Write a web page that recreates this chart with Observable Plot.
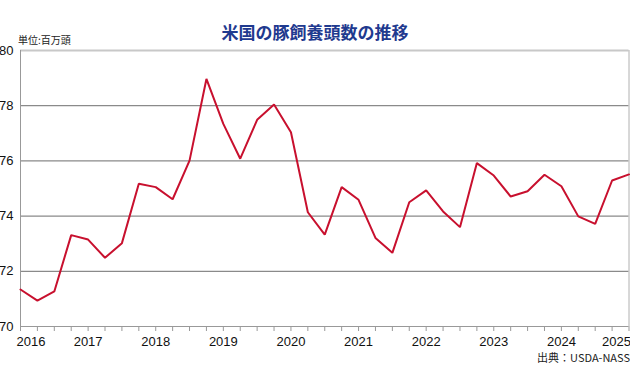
<!DOCTYPE html>
<html>
<head>
<meta charset="utf-8">
<script src="https://cdn.jsdelivr.net/npm/d3@7"></script>
<script src="https://cdn.jsdelivr.net/npm/@observablehq/plot@0.6"></script>
<style>
  html, body { margin: 0; padding: 0; background: #fff; }
  #wrap { position: relative; width: 630px; height: 388px; overflow: hidden; font-family: "Liberation Sans", Arial, sans-serif; }
  #title { position: absolute; left: 0; width: 630px; top: 21px; text-align: center; font-family: "Noto Sans CJK JP", sans-serif; font-weight: 700; font-size: 17px; color: #1f3a8f; line-height: 22px; }
  #unit { position: absolute; left: 18px; top: 34px; font-family: "Noto Sans CJK JP", sans-serif; font-size: 10px; color: #222; line-height: 12px; }
  #source { position: absolute; right: 0px; top: 350px; font-family: "Noto Sans CJK JP", sans-serif; font-size: 11px; color: #222; line-height: 14px; }
  #chart { position: absolute; left: 0; top: 0; }
</style>
</head>
<body>
<div id="wrap">
  <div id="chart"></div>
  <div id="title">米国の豚飼養頭数の推移</div>
  <div id="unit">単位:百万頭</div>
  <div id="source">出典：USDA-NASS</div>
</div>
<script>
// Quarterly US hog inventory (million head), 2016 Q1 .. 2025 Q1
const years = [2016, 2017, 2018, 2019, 2020, 2021, 2022, 2023, 2024, 2025];
const quarters = ["Q1", "Q2", "Q3", "Q4"];
const inventory = [
  71.34, 70.94, 71.27, 73.31,
  73.15, 72.49, 73.02, 75.17,
  75.05, 74.61, 76.01, 78.97,
  77.34, 76.08, 77.49, 78.04,
  77.04, 74.14, 73.33, 75.05,
  74.59, 73.21, 72.67, 74.50,
  74.93, 74.17, 73.60, 75.92,
  75.47, 74.71, 74.90, 75.50,
  75.08, 73.99, 73.72, 75.29,
  75.51
];
const yTicks = [70, 72, 74, 76, 78, 80];
const gridValues = [72, 74, 76, 78];

const periods = inventory.map((v, i) => ({
  idx: i,
  label: `${years[Math.floor(i / 4)]}${quarters[i % 4]}`,
  value: v
}));
const yearLabels = years.map((y, i) => ({ idx: i * 4, year: String(y) }));

const chart = Plot.plot({
  width: 630,
  height: 388,
  marginLeft: 20,
  marginRight: 1.5,
  marginTop: 50,
  marginBottom: 62,
  style: { fontFamily: "Liberation Sans, Arial, sans-serif", background: "transparent", overflow: "visible" },
  x: { type: "linear", domain: [0, 36], axis: null, label: null },
  y: { domain: [70, 80], axis: null, label: null },
  marks: [
    Plot.ruleY(gridValues, { stroke: "#8a8a8a", strokeWidth: 1.3 }),
    Plot.ruleY([80], { stroke: "#c8c8c8", strokeWidth: 2 }),
    Plot.ruleX([36], { stroke: "#b0b0b0", strokeWidth: 1 }),
    Plot.axisX({ ticks: periods.map(d => d.idx), tickSize: 5, tickFormat: () => "", stroke: "#999", label: null }),
    Plot.ruleY([70], { stroke: "#999", strokeWidth: 1 }),
    Plot.ruleX([0], { stroke: "#999", strokeWidth: 1 }),
    Plot.line(periods, { x: "idx", y: "value", stroke: "#c8102e", strokeWidth: 2, strokeLinejoin: "miter" }),
    Plot.text(yTicks, { x: 0, y: d => d, text: d => String(d), textAnchor: "end", dx: -7, fontSize: 13, fill: "#111" }),
    Plot.text(yearLabels.filter(d => d.year !== "2016" && d.year !== "2025"), { x: "idx", y: 70, text: "year", dy: 15, fontSize: 13, fill: "#111" }),
    Plot.text(yearLabels.filter(d => d.year === "2016"), { x: "idx", y: 70, text: "year", dy: 15, dx: -4, textAnchor: "start", fontSize: 13, fill: "#111" }),
    Plot.text(yearLabels.filter(d => d.year === "2025"), { x: "idx", y: 70, text: "year", dy: 15, dx: 2, textAnchor: "end", fontSize: 13, fill: "#111" })
  ]
});
document.getElementById("chart").appendChild(chart);
</script>
</body>
</html>
